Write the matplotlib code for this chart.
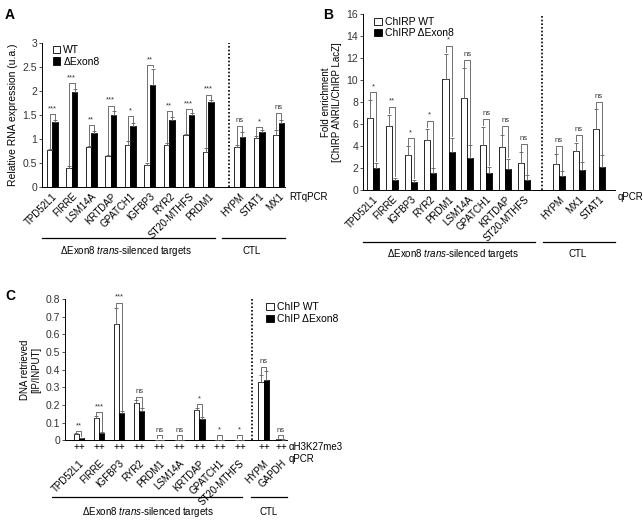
import numpy as np
import matplotlib
matplotlib.use("Agg")
import matplotlib.pyplot as plt
from matplotlib.patches import Patch

plt.rcParams['font.family'] = ['Liberation Sans', 'DejaVu Sans']
plt.rcParams['mathtext.fontset'] = 'custom'
plt.rcParams['mathtext.rm'] = 'Liberation Sans'
plt.rcParams['mathtext.it'] = 'Liberation Sans:italic'

# Panel A: RTqPCR
genes_a = ['TPD52L1', 'FIRRE', 'LSM14A', 'KRTDAP', 'GPATCH1', 'IGFBP3', 'RYR2',
           'ST20-MTHFS', 'PRDM1', 'HYPM', 'STAT1', 'MX1']
wt_a = [0.78, 0.39, 0.83, 0.65, 0.88, 0.46, 0.87, 1.08, 0.73, 0.83, 1.03, 1.08]
wt_err_a = [0.02, 0.04, 0.03, 0.02, 0.08, 0.05, 0.05, 0.03, 0.08, 0.04, 0.03, 0.10]
ko_a = [1.36, 1.98, 1.13, 1.50, 1.27, 2.12, 1.40, 1.51, 1.77, 1.04, 1.14, 1.33]
ko_err_a = [0.03, 0.06, 0.04, 0.08, 0.07, 0.35, 0.06, 0.03, 0.04, 0.10, 0.04, 0.06]
brk_a = [1.52, 2.17, 1.29, 1.70, 1.48, 2.55, 1.58, 1.63, 1.93, 1.27, 1.25, 1.55]
sig_a = ['***', '***', '**', '***', '*', '**', '**', '***', '***', 'ns', '*', 'ns']

# Panel B: ChIRP qPCR
genes_b = ['TPD52L1', 'FIRRE', 'IGFBP3', 'RYR2', 'PRDM1', 'LSM14A', 'GPATCH1',
           'KRTDAP', 'ST20-MTHFS', 'HYPM', 'MX1', 'STAT1']
wt_b = [6.6, 5.85, 3.2, 4.55, 10.1, 8.4, 4.1, 3.9, 2.5, 2.4, 3.6, 5.55]
wt_err_b = [1.6, 1.0, 0.8, 1.05, 2.3, 2.7, 1.65, 1.1, 0.95, 0.85, 0.7, 1.8]
ko_b = [2.0, 0.9, 0.75, 1.55, 3.45, 2.9, 1.6, 1.95, 0.95, 1.25, 1.8, 2.1]
ko_err_b = [0.5, 0.25, 0.2, 0.45, 1.3, 1.2, 0.55, 0.9, 0.4, 0.45, 0.75, 1.05]
brk_b = [8.9, 7.6, 4.7, 6.3, 13.1, 11.8, 6.5, 5.8, 4.2, 4.0, 5.0, 8.0]
sig_b = ['*', '**', '*', '*', '*', 'ns', 'ns', 'ns', 'ns', 'ns', 'ns', 'ns']

# Panel C: ChIP H3K27me3
genes_c = ['TPD52L1', 'FIRRE', 'IGFBP3', 'RYR2', 'PRDM1', 'LSM14A', 'KRTDAP',
           'GPATCH1', 'ST20-MTHFS', 'HYPM', 'GAPDH']
wt_c = [0.035, 0.125, 0.66, 0.21, 0.003, 0.002, 0.17, 0.002, 0.003, 0.33, 0.005]
wt_err_c = [0.005, 0.01, 0.09, 0.02, 0.001, 0.001, 0.01, 0.001, 0.001, 0.04, 0.002]
ko_c = [0.012, 0.04, 0.155, 0.165, 0.003, 0.002, 0.12, 0.001, 0.002, 0.34, 0.004]
ko_err_c = [0.003, 0.004, 0.01, 0.015, 0.001, 0.001, 0.01, 0.001, 0.001, 0.05, 0.002]
brk_c = [0.05, 0.16, 0.78, 0.245, 0.028, 0.028, 0.205, 0.028, 0.028, 0.415, 0.028]
sig_c = ['**', '***', '***', 'ns', 'ns', 'ns', '*', '*', '*', 'ns', 'ns']


def positions(n_targets, n_ctl, gap, ctl_step):
    p = list(range(n_targets))
    start = n_targets - 1 + gap
    p += [start + i * ctl_step for i in range(n_ctl)]
    return np.array(p, dtype=float)


def draw_panel(ax, pos, genes, wt, wt_err, ko, ko_err, brk, sig, w, ymax, dash_x, xlim):
    pos = np.asarray(pos)
    ax.bar(pos - w / 2, wt, w, color='white', edgecolor='black', linewidth=0.6, zorder=2)
    ax.bar(pos + w / 2, ko, w, color='black', edgecolor='black', linewidth=0.6, zorder=2)
    z = np.zeros(len(wt))
    ax.errorbar(pos - w / 2, wt, yerr=[z, wt_err], fmt='none', ecolor='0.35',
                elinewidth=0.6, capsize=1.5, capthick=0.6, zorder=3)
    ax.errorbar(pos + w / 2, ko, yerr=[z, ko_err], fmt='none', ecolor='0.35',
                elinewidth=0.6, capsize=1.5, capthick=0.6, zorder=3)
    g = ymax * 0.008
    for i in range(len(pos)):
        x1, x2 = pos[i] - w / 2, pos[i] + w / 2
        y1 = wt[i] + wt_err[i] + g
        y2 = ko[i] + ko_err[i] + g
        ax.plot([x1, x1, x2, x2], [y1, brk[i], brk[i], y2], color='0.35', lw=0.6, zorder=1)
        ax.text(pos[i], brk[i] + ymax * 0.012, sig[i], ha='center', va='bottom',
                fontsize=5.5, color='0.2')
    ax.axvline(dash_x, color='black', ls=(0, (1, 1.2)), lw=1.2)
    ax.set_xlim(*xlim)
    ax.set_ylim(0, ymax)
    for s in ['top', 'right']:
        ax.spines[s].set_visible(False)
    ax.spines['left'].set_linewidth(0.7)
    ax.spines['bottom'].set_linewidth(0.7)
    ax.tick_params(axis='y', labelsize=7.5, length=2, width=0.6, pad=1.5, colors='0.2')
    ax.set_xticks(pos)
    ax.set_xticklabels(genes, rotation=45, ha='right', rotation_mode='anchor', fontsize=7)
    ax.tick_params(axis='x', length=0)


def groups(ax, l1, l2, t1, t2, ly, ty):
    ax.plot(l1, [ly, ly], transform=ax.transAxes, color='black', lw=0.9, clip_on=False)
    ax.plot(l2, [ly, ly], transform=ax.transAxes, color='black', lw=0.9, clip_on=False)
    ax.text(t1, ty, r'ΔExon8 $\mathit{trans}$-silenced targets', transform=ax.transAxes,
            ha='center', va='center', fontsize=7)
    ax.text(t2, ty, 'CTL', transform=ax.transAxes, ha='center', va='center', fontsize=7)


def leg(ax, labels, **kw):
    h = [Patch(facecolor='white', edgecolor='black', linewidth=0.6),
         Patch(facecolor='black', edgecolor='black', linewidth=0.6)]
    ax.legend(h, labels, frameon=False, fontsize=7.5, handlelength=0.7, handleheight=0.7,
              handletextpad=0.3, labelspacing=0.15, borderpad=0.1, **kw)


fig = plt.figure(figsize=(6.43, 5.21), dpi=100)

# A
axA = fig.add_axes([0.065, 0.641, 0.378, 0.276])
posA = positions(9, 3, 1.6, 1.0)
draw_panel(axA, posA, genes_a, wt_a, wt_err_a, ko_a, ko_err_a, brk_a, sig_a,
           0.28, 3, 9.05, (-0.54, 11.92))
axA.set_yticks([0, 0.5, 1, 1.5, 2, 2.5, 3])
axA.set_yticklabels(['0', '0.5', '1', '1.5', '2', '2.5', '3'])
axA.set_ylabel('Relative RNA expression (u.a.)', fontsize=7.5, labelpad=3)
axA.tick_params(axis='x', pad=3)
axA.text(1.02, -0.07, 'RTqPCR', transform=axA.transAxes, fontsize=7, va='center')
groups(axA, [0, 0.712], [0.741, 1.0], 0.345, 0.864, -0.354, -0.444)
leg(axA, ['WT', 'ΔExon8'], loc='upper left', bbox_to_anchor=(0.02, 1.03))

# B
axB = fig.add_axes([0.5645, 0.635, 0.3915, 0.338])
posB = positions(9, 3, 1.85, 1.05)
draw_panel(axB, posB, genes_b, wt_b, wt_err_b, ko_b, ko_err_b, brk_b, sig_b,
           0.32, 16, 8.95, (-0.53, 12.8))
axB.set_yticks(range(0, 17, 2))
axB.set_ylabel('Fold enrichment\n[ChIRP ANRIL/ChIRP LacZ]', fontsize=7, labelpad=3)
axB.tick_params(axis='x', pad=3)
axB.text(1.01, -0.04, 'qPCR', transform=axB.transAxes, fontsize=7, va='center')
groups(axB, [0, 0.683], [0.714, 1.0], 0.357, 0.853, -0.295, -0.364)
leg(axB, ['ChIRP WT', 'ChIRP ΔExon8'], loc='upper left', bbox_to_anchor=(0.02, 1.02))

# C
axC = fig.add_axes([0.101, 0.155, 0.345, 0.271])
posC = positions(9, 2, 1.2, 0.85)
draw_panel(axC, posC, genes_c, wt_c, wt_err_c, ko_c, ko_err_c, brk_c, sig_c,
           0.26, 0.8, 8.64, (-0.69, 10.35))
axC.set_yticks(np.arange(0, 0.81, 0.1))
axC.set_yticklabels(['0'] + ['%.1f' % v for v in np.arange(0.1, 0.81, 0.1)])
axC.set_ylabel('DNA retrieved\n[IP/INPUT]', fontsize=7, labelpad=3)
axC.tick_params(axis='x', pad=13)
for p in posC:
    for dx in (-0.13, 0.13):
        axC.text(p + dx, -0.045, '+', transform=axC.get_xaxis_transform(),
                 ha='center', va='center', fontsize=7)
axC.text(1.01, -0.05, 'αH3K27me3', transform=axC.transAxes, fontsize=7, va='center')
axC.text(1.01, -0.13, 'qPCR', transform=axC.transAxes, fontsize=7, va='center')
groups(axC, [-0.059, 0.80], [0.84, 1.0], 0.374, 0.92, -0.404, -0.51)
leg(axC, ['ChIP WT', 'ChIP ΔExon8'], loc='upper left', bbox_to_anchor=(0.88, 1.02))

fig.text(0.008, 0.985, 'A', fontsize=10, fontweight='bold', va='top')
fig.text(0.503, 0.985, 'B', fontsize=10, fontweight='bold', va='top')
fig.text(0.008, 0.445, 'C', fontsize=10, fontweight='bold', va='top')

fig.savefig('out.png', dpi=100)
